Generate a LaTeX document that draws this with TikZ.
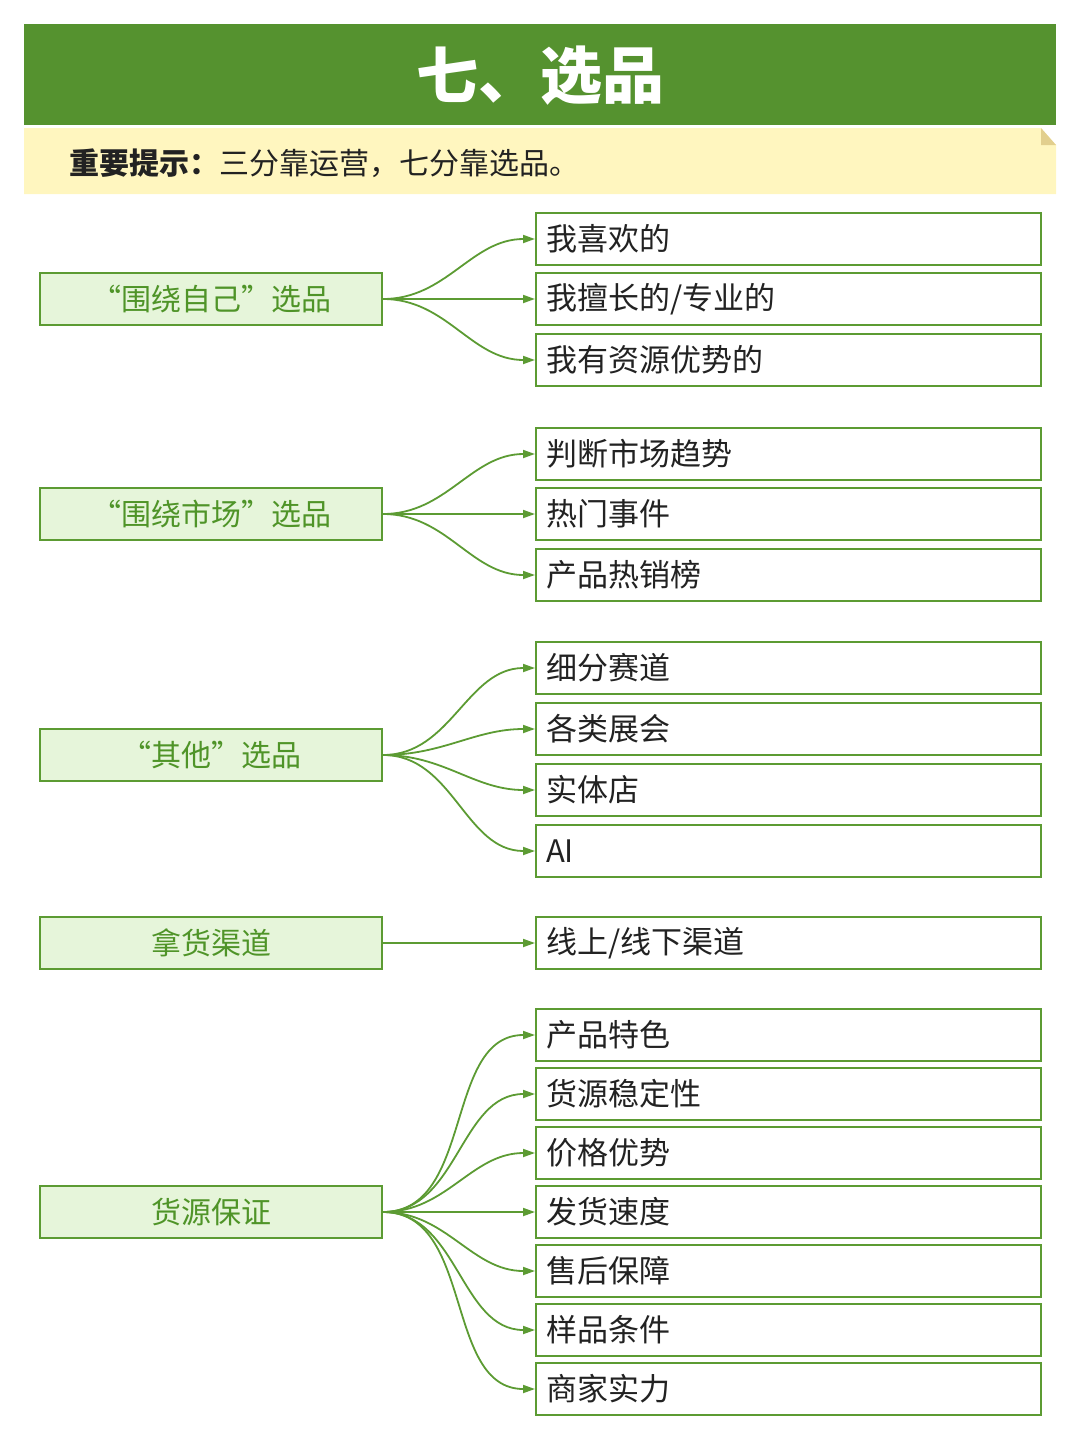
\documentclass[tikz,border=0pt]{standalone}
\usepackage{fontspec}
\setmainfont{Noto Sans CJK SC}
\usetikzlibrary{arrows.meta}
\definecolor{hd}{HTML}{55922F}
\definecolor{ln}{HTML}{5C9B33}
\definecolor{lfill}{HTML}{E6F5DA}
\definecolor{ltxt}{HTML}{4F9428}
\definecolor{tipbg}{HTML}{FFF6BF}
\definecolor{fold}{HTML}{E2CF8E}
\definecolor{txt}{HTML}{222222}
\tikzset{
  lbox/.style={draw=ln,line width=2pt,fill=lfill,anchor=west,text width=322pt,inner xsep=10pt,minimum height=52pt,align=center,text=ltxt,font=\fontsize{30}{36}\selectfont},
  rbox/.style={draw=ln,line width=2pt,fill=white,anchor=west,text width=485pt,inner xsep=10pt,minimum height=52pt,align=left,text=txt,font=\fontsize{31}{37}\selectfont},
  ar/.style={-{Triangle[length=12pt,width=8pt]},line width=1.8pt,draw=ln},
}

\begin{document}
\begin{tikzpicture}[x=1pt,y=-1pt]
\useasboundingbox (0,0) rectangle (1080,1440);
% header and tip
\fill[hd] (24,24) rectangle (1056,125);
\node[text=white,font=\fontsize{62}{70}\selectfont\bfseries] (title) at (540,76) {七、选品};
\fill[tipbg] (24,128) -- (1041,128) -- (1056,145) -- (1056,194) -- (24,194) -- cycle;
\fill[fold] (1041,128) -- (1056,145) -- (1041,145) -- cycle;
\node[anchor=west,text=txt,font=\fontsize{30}{36}\selectfont] (tip) at (66,163) {{\bfseries 重要提示：}三分靠运营，七分靠选品。};

% left column
\node[lbox] (self) at (39,299) {“围绕自己”选品};
\node[lbox] (mkt) at (39,514) {“围绕市场”选品};
\node[lbox] (oth) at (39,755) {“其他”选品};
\node[lbox] (chan) at (39,943) {拿货渠道};
\node[lbox] (src) at (39,1212) {货源保证};

% right column
\node[rbox] (s1) at (535,239) {我喜欢的};
\node[rbox] (s2) at (535,299) {我擅长的/专业的};
\node[rbox] (s3) at (535,360) {我有资源优势的};

\node[rbox] (m1) at (535,454) {判断市场趋势};
\node[rbox] (m2) at (535,514) {热门事件};
\node[rbox] (m3) at (535,575) {产品热销榜};

\node[rbox] (o1) at (535,668) {细分赛道};
\node[rbox] (o2) at (535,729) {各类展会};
\node[rbox] (o3) at (535,790) {实体店};
\node[rbox] (o4) at (535,851) {AI};

\node[rbox] (c1) at (535,943) {线上/线下渠道};

\node[rbox] (g1) at (535,1035) {产品特色};
\node[rbox] (g2) at (535,1094) {货源稳定性};
\node[rbox] (g3) at (535,1153) {价格优势};
\node[rbox] (g4) at (535,1212) {发货速度};
\node[rbox] (g5) at (535,1271) {售后保障};
\node[rbox] (g6) at (535,1330) {样品条件};
\node[rbox] (g7) at (535,1389) {商家实力};

% connectors
\foreach \t in {s1,s2,s3} \draw[ar] (self.east) to[out=0,in=180] (\t.west);
\foreach \t in {m1,m2,m3} \draw[ar] (mkt.east) to[out=0,in=180] (\t.west);
\foreach \t in {o1,o2,o3,o4} \draw[ar] (oth.east) to[out=0,in=180] (\t.west);
\draw[ar] (chan.east) -- (c1.west);
\foreach \t in {g1,g2,g3,g4,g5,g6,g7} \draw[ar] (src.east) to[out=0,in=180] (\t.west);
\end{tikzpicture}
\end{document}
